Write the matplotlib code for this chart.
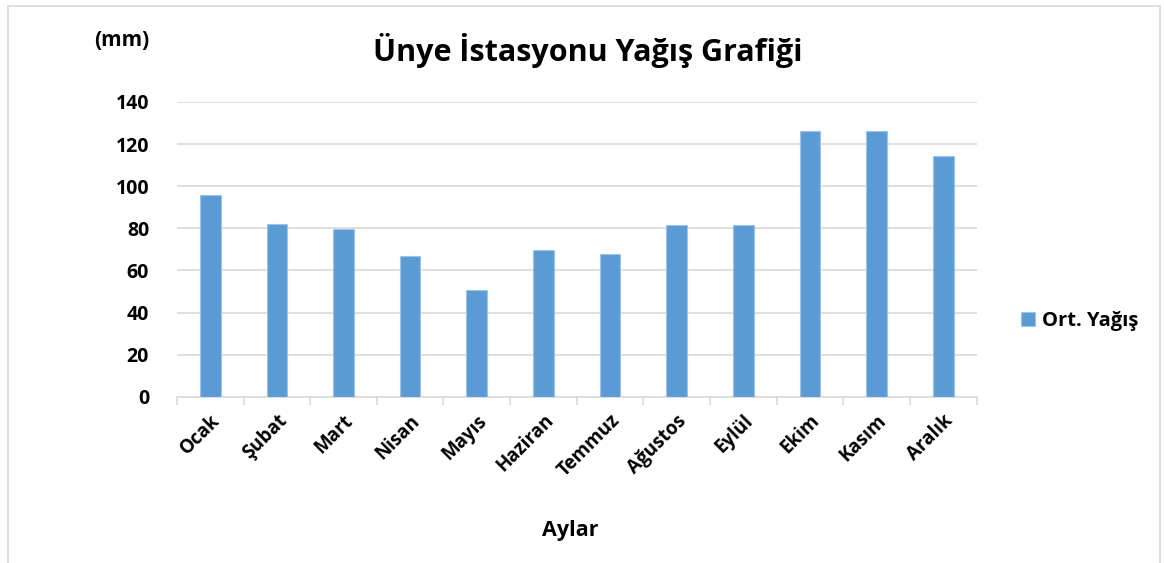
import matplotlib
matplotlib.use("Agg")
import matplotlib.pyplot as plt
from matplotlib.patches import Rectangle

months = ["Ocak", "Şubat", "Mart", "Nisan", "Mayıs", "Haziran", "Temmuz",
          "Ağustos", "Eylül", "Ekim", "Kasım", "Aralık"]
rain = [95.8, 82.2, 79.8, 66.8, 50.5, 69.7, 67.9, 81.6, 81.6, 126.4, 126.0, 114.2]
yticks = [0, 20, 40, 60, 80, 100, 120, 140]

plt.rcParams['font.family'] = ['Open Sans', 'DejaVu Sans']

fig = plt.figure(figsize=(11.64, 5.63), dpi=100)
ax = fig.add_axes([0.152, 0.295, 0.687, 0.524])

x = list(range(len(months)))
bars = ax.bar(x, rain, width=0.31, color='#5b9bd5', edgecolor='#9dc3e6',
              linewidth=0.8, label='Ort. Yağış', zorder=3)

ax.set_xlim(-0.5, len(months) - 0.5)
ax.set_ylim(0, 140)
ax.set_yticks(yticks)
ax.set_yticklabels([str(v) for v in yticks], fontsize=14, fontweight='bold')
ax.yaxis.grid(True, color='#d9d9d9', linewidth=1.2, zorder=0)
ax.tick_params(axis='y', length=0, pad=20)

ax.set_xticks([i + 0.5 for i in range(-1, len(months))], minor=False)
ax.set_xticklabels([])
ax.tick_params(axis='x', which='major', length=6, color='#d9d9d9', width=1.2)
ax.set_xticks(x, minor=True)
ax.set_xticklabels(months, minor=True, rotation=45, ha='right',
                   rotation_mode='anchor', fontsize=13.5, fontweight='bold')
ax.tick_params(axis='x', which='minor', length=0, pad=10)

for s in ['left', 'right', 'top']:
    ax.spines[s].set_visible(False)
ax.spines['bottom'].set_color('#d9d9d9')
ax.spines['bottom'].set_linewidth(1.2)

fig.text(0.505, 0.91, "Ünye İstasyonu Yağış Grafiği", ha='center', va='center',
         fontsize=22, fontweight='bold')
fig.text(0.105, 0.928, "(mm)", ha='center', va='center', fontsize=15,
         fontweight='bold')
fig.text(0.49, 0.057, "Aylar", ha='center', va='center', fontsize=15.5,
         fontweight='bold')

leg = fig.legend(handles=[bars], labels=['Ort. Yağış'], loc='center left',
                 bbox_to_anchor=(0.862, 0.43), frameon=False,
                 prop={'weight': 'bold', 'size': 14.5},
                 handlelength=0.65, handleheight=0.65, handletextpad=0.35)

fig.patches.append(Rectangle((8 / 1164, -0.01), 1152 / 1164, 1.0,
                             transform=fig.transFigure, fill=False,
                             edgecolor='#d9d9d9', linewidth=1.2))

fig.savefig("out.png", dpi=100)
